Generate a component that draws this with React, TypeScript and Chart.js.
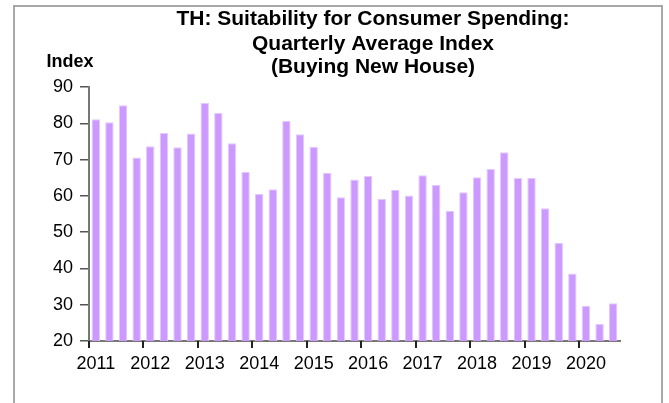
import React, { useEffect, useRef } from "react";
import { Chart, registerables } from "chart.js";

Chart.register(...registerables);

const titleLines = [
  "TH: Suitability for Consumer Spending:",
  "Quarterly Average Index",
  "(Buying New House)",
];
const yAxisTitle = "Index";
const years = ["2011", "2012", "2013", "2014", "2015", "2016", "2017", "2018", "2019", "2020"];
const quarters = ["Q1", "Q2", "Q3", "Q4"];
const values = [
  81.1, 80.3, 85.0, 70.6,
  73.7, 77.3, 73.4, 77.2,
  85.6, 82.9, 74.5, 66.6,
  60.5, 61.8, 80.7, 77.0,
  73.5, 66.4, 59.6, 64.5,
  65.5, 59.1, 61.7, 60.1,
  65.7, 63.0, 55.9, 61.0,
  65.1, 67.4, 72.0, 64.9,
  64.9, 56.6, 47.1, 38.6,
  29.7, 24.7, 30.4,
];
const categories = values.map((_, i) => `${years[Math.floor(i / 4)]} ${quarters[i % 4]}`);

const FONT = "'Liberation Sans', Arial, sans-serif";

const overlayPlugin = {
  id: "overlayText",
  afterDraw(chart: any) {
    const ctx = chart.ctx;
    ctx.save();
    // year boundary tick marks on the x axis
    const xs = chart.scales.x;
    const bottom = chart.chartArea.bottom;
    const step = xs.getPixelForValue(1) - xs.getPixelForValue(0);
    ctx.fillStyle = "#222";
    for (let i = 0; i < values.length; i += 4) {
      const px = Math.round(xs.getPixelForValue(i) - step / 2);
      ctx.fillRect(px - 1, bottom, 2, 7);
    }
    ctx.fillStyle = "#000";
    ctx.textAlign = "center";
    ctx.textBaseline = "middle";
    ctx.font = `bold 21px ${FONT}`;
    const ys = [19, 44, 67];
    titleLines.forEach((t, i) => ctx.fillText(t, 373, ys[i]));
    ctx.font = `bold 18px ${FONT}`;
    ctx.fillText(yAxisTitle, 70, 62);
    ctx.restore();
  },
};

export default function App() {
  const ref = useRef<HTMLCanvasElement>(null);
  useEffect(() => {
    if (!ref.current) return;
    const chart = new Chart(ref.current, {
      type: "bar",
      data: {
        labels: categories,
        datasets: [
          {
            data: values,
            backgroundColor: "#cc99ff",
            borderColor: "#e3c9ff",
            borderWidth: 1,
            barPercentage: 0.62,
            categoryPercentage: 1,
          },
        ],
      },
      options: {
        animation: false,
        responsive: false,
        maintainAspectRatio: false,
        layout: { padding: { left: 0, right: 49, top: 87, bottom: 0 } },
        plugins: {
          legend: { display: false },
          title: { display: false },
          tooltip: { enabled: false },
        },
        scales: {
          x: {
            offset: true,
            afterFit: (s: any) => {
              s.height = 62;
            },
            grid: {
              offset: true,
              drawOnChartArea: false,
              drawTicks: true,
              tickLength: 6,
              color: "rgba(0,0,0,0)",
            },
            border: { display: true, color: "#777", width: 2 },
            ticks: {
              autoSkip: false,
              maxRotation: 0,
              minRotation: 0,
              padding: 6,
              color: "#000",
              font: { family: FONT, size: 18 },
              callback: (_v: any, i: number) => (i % 4 === 0 ? years[i / 4] : ""),
            },
          },
          y: {
            min: 20,
            max: 90,
            afterFit: (s: any) => {
              s.width = 89;
            },
            grid: {
              drawOnChartArea: false,
              drawTicks: true,
              tickLength: 9,
              lineWidth: 1.5,
              color: "#555",
            },
            border: { display: true, color: "#777", width: 2 },
            ticks: {
              stepSize: 10,
              padding: 7,
              color: "#000",
              font: { family: FONT, size: 18 },
            },
          },
        },
      },
      plugins: [overlayPlugin],
    });
    return () => chart.destroy();
  }, []);

  return (
    <div style={{ position: "fixed", left: 0, top: 0, width: 669, height: 403, background: "#fff" }}>
      <div
        style={{
          position: "absolute",
          left: 13,
          top: 5,
          width: 650,
          height: 420,
          borderTop: "2px solid #a8a8a8",
          borderLeft: "2px solid #a8a8a8",
          borderRight: "2px solid #a8a8a8",
          boxSizing: "border-box",
        }}
      />
      <canvas ref={ref} width={669} height={403} style={{ position: "absolute", left: 0, top: 0 }} />
    </div>
  );
}
